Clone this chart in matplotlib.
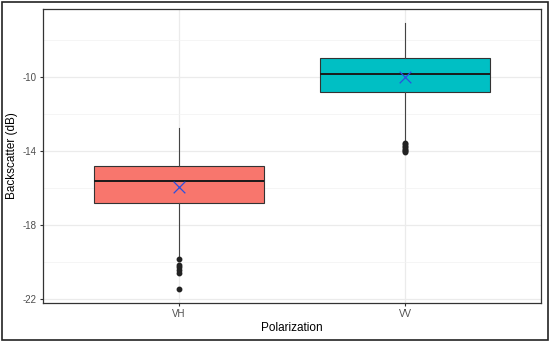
import matplotlib
matplotlib.use("Agg")
import matplotlib.pyplot as plt
from matplotlib.patches import Rectangle

plt.rcParams["font.family"] = ["Liberation Sans", "DejaVu Sans"]
plt.rcParams["axes.unicode_minus"] = False

categories = ["VH", "VV"]
whisker_low = [-19.7, -13.5]
q1 = [-16.83, -10.83]
median = [-15.64, -9.82]
q3 = [-14.81, -8.97]
whisker_high = [-12.74, -7.07]
means = [-15.93, -10.02]
outliers = [
    [-19.86, -20.16, -20.3, -20.43, -20.58, -21.47],
    [-13.58, -13.65, -13.72, -13.8, -13.87, -13.94, -14.0, -14.07],
]
colors = ["#F8766D", "#00BFC4"]

fig = plt.figure(figsize=(5.5, 3.42), dpi=100)
ax = fig.add_axes([0.078, 0.114, 0.906, 0.86])

stats = []
for i, name in enumerate(categories):
    stats.append({
        "label": name, "whislo": whisker_low[i], "q1": q1[i], "med": median[i],
        "q3": q3[i], "whishi": whisker_high[i], "fliers": outliers[i],
    })

pos = list(range(1, len(categories) + 1))
bp = ax.bxp(stats, positions=pos, widths=0.75, patch_artist=True, showcaps=False,
            boxprops=dict(edgecolor="#333333", linewidth=0.8),
            medianprops=dict(color="#1a1a1a", linewidth=1.4),
            whiskerprops=dict(color="#444444", linewidth=0.8),
            flierprops=dict(marker="o", markerfacecolor="#222222", markeredgecolor="#222222",
                            markersize=3.2))
for patch, c in zip(bp["boxes"], colors):
    patch.set_facecolor(c)
for b in bp["boxes"] + bp["whiskers"] + bp["medians"] + bp["fliers"]:
    b.set_zorder(3)

ax.scatter(pos, means, marker="x", s=70, color="#2b4fe0", linewidths=0.9, zorder=4)

ax.set_xlim(0.4, 2.6)
ax.set_ylim(-22.22, -6.32)
ax.set_yticks([-10, -14, -18, -22])
ax.set_yticks([-8, -12, -16, -20], minor=True)
ax.set_xticks(pos)
ax.set_xticklabels(categories)
ax.grid(True, which="major", color="#ebebeb", linewidth=0.9, zorder=0)
ax.grid(True, which="minor", axis="y", color="#f2f2f2", linewidth=0.5, zorder=0)
ax.set_axisbelow(True)
ax.tick_params(axis="both", which="major", length=2.5, width=0.8, color="#333333",
               labelsize=7, labelcolor="#4d4d4d", pad=2)
ax.tick_params(axis="both", which="minor", length=0)
for s in ax.spines.values():
    s.set_color("#333333")
    s.set_linewidth(0.9)

ax.set_xlabel("Polarization", fontsize=8.5, labelpad=2)
ax.set_ylabel("Backscatter (dB)", fontsize=8.5, labelpad=3)

fig.patches.append(Rectangle((0.004, 0.006), 0.992, 0.988, transform=fig.transFigure,
                             fill=False, edgecolor="#222222", linewidth=1.2))

fig.savefig("out.png", dpi=100)
